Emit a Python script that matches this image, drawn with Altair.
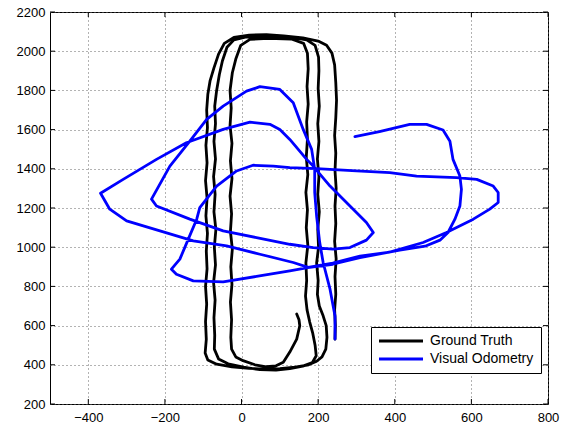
import altair as alt
import pandas as pd

# ---- data (x, y in the plot's units) ----
gt_x = [244, 245, 243, 246, 244, 247, 243, 246, 244, 247, 244, 246, 243, 246, 248, 246, 243, 236, 222, 200,
        160, 110, 65, 20, -20, -45, -60, -72, -82, -88, -91, -89, -93, -90, -94, -90, -93, -89, -92, -90,
        -94, -91, -94, -92, -95, -88, -65, -25, 20, 60, 100, 140, 175, 196, 210, 220, 223, 221, 213, 203,
        198, 200, 196, 201, 199, 203, 199, 202, 198, 202, 199, 203, 200, 202, 201, 192, 170, 130, 70, 10,
        -20, -38, -50, -58, -65, -70, -68, -72, -68, -73, -69, -72, -67, -71, -68, -73, -69, -72, -70, -71,
        -60, -35, 5, 48, 90, 126, 160, 185, 195, 192, 186, 178, 171, 167, 170, 168, 173, 169, 172, 168,
        173, 169, 172, 170, 174, 171, 174, 172, 162, 130, 70, 22, -2, -15, -24, -30, -27, -30, -25, -29,
        -25, -30, -26, -29, -24, -28, -25, -29, -26, -28, -26, -15, 4, 35, 65, 90, 109, 126, 144, 152,
        150, 144]
gt_y = [531, 600, 680, 760, 850, 940, 1030, 1120, 1210, 1300, 1390, 1480, 1570, 1660, 1750, 1840, 1930, 1990, 2030, 2052,
        2068, 2078, 2085, 2082, 2070, 2040, 1985, 1915, 1850, 1780, 1700, 1610, 1520, 1430, 1340, 1250, 1160, 1070, 980, 890,
        800, 710, 620, 530, 460, 425, 403, 390, 382, 378, 380, 388, 400, 418, 440, 480, 540, 600, 650, 700,
        760, 830, 920, 1000, 1090, 1180, 1270, 1360, 1450, 1540, 1630, 1720, 1810, 1900, 1970, 2030, 2058, 2070, 2075, 2072,
        2058, 2020, 1950, 1880, 1800, 1720, 1630, 1540, 1450, 1360, 1270, 1180, 1090, 1000, 910, 820, 730, 640, 550, 480,
        430, 405, 388, 375, 373, 380, 393, 412, 446, 500, 560, 618, 680, 750, 830, 920, 1010, 1100, 1190, 1280,
        1370, 1460, 1550, 1640, 1730, 1820, 1910, 1990, 2040, 2062, 2066, 2060, 2030, 1960, 1890, 1800, 1710, 1620, 1530, 1440,
        1350, 1260, 1170, 1080, 990, 900, 810, 720, 630, 540, 480, 440, 421, 400, 390, 395, 413, 465, 531, 599,
        630, 659]

vo_x = [244, 244, 231, 213, 204, 196, 191, 191, 183, 161, 135, 100, 48, 13, -48, -91, -135, -187, -235, -222,
        -135, -48, 39, 126, 187, 239, 283, 326, 344, 326, 283, 231, 187, 170, 126, 100, 74, 22, -48, -144,
        -222, -309, -368, -344, -300, -213, -126, -39, 48, 135, 174, 238, 309, 387, 474, 535, 605, 648, 670, 670,
        657, 614, 561, 457, 387, 300, 196, 126, 83, 30, -13, -65, -109, -117, -139, -161, -183, -170, -126, -48,
        39, 126, 173, 238, 309, 413, 479, 518, 539, 557, 570, 574, 570, 552, 544, 526, 483, 439, 360, 296]
vo_y = [531, 649, 786, 922, 1025, 1158, 1280, 1397, 1499, 1601, 1737, 1805, 1819, 1796, 1720, 1652, 1541, 1414, 1245, 1210,
        1143, 1083, 1049, 1015, 998, 990, 998, 1036, 1075, 1126, 1210, 1312, 1414, 1448, 1550, 1601, 1627, 1638, 1601, 1533,
        1448, 1346, 1275, 1194, 1134, 1083, 1032, 1007, 964, 922, 897, 919, 954, 975, 1024, 1075, 1143, 1194, 1228, 1279,
        1312, 1346, 1355, 1363, 1381, 1389, 1401, 1406, 1414, 1418, 1389, 1312, 1202, 1143, 1041, 939, 888, 862, 828, 823,
        851, 879, 896, 913, 947, 985, 1005, 1036, 1075, 1143, 1210, 1295, 1363, 1448, 1541, 1598, 1627, 1627, 1590, 1564]

series_names = ["Ground Truth", "Visual Odometry"]
series_colors = ["#000000", "#0000ff"]

x_ticks = [-400, -200, 0, 200, 400, 600, 800]
y_ticks = [200, 400, 600, 800, 1000, 1200, 1400, 1600, 1800, 2000, 2200]

W, H = 498, 392
FONT = "Liberation Sans"

df = pd.concat([
    pd.DataFrame({"series": series_names[0], "x": gt_x, "y": gt_y, "i": range(len(gt_x))}),
    pd.DataFrame({"series": series_names[1], "x": vo_x, "y": vo_y, "i": range(len(vo_x))}),
])

xs = alt.Scale(domain=[-500, 800], nice=False, zero=False)
ys = alt.Scale(domain=[200, 2200], nice=False, zero=False)

x_axis = alt.Axis(values=x_ticks, title=None, ticks=False, domain=False, grid=True,
                  gridDash=[1, 3], gridColor="#666666", gridWidth=1,
                  labelFont=FONT, labelFontSize=13, labelColor="black", labelPadding=7,
                  format="d", labelFlush=False)
y_axis = alt.Axis(values=y_ticks, title=None, ticks=False, domain=False, grid=True,
                  gridDash=[1, 3], gridColor="#666666", gridWidth=1,
                  labelFont=FONT, labelFontSize=13, labelColor="black", labelPadding=5,
                  format="d", labelFlush=False)

lines = alt.Chart(df).mark_line(strokeWidth=2.8, strokeJoin="round", strokeCap="round").encode(
    x=alt.X("x:Q", scale=xs, axis=x_axis),
    y=alt.Y("y:Q", scale=ys, axis=y_axis),
    order="i:Q",
    color=alt.Color("series:N",
                    scale=alt.Scale(domain=series_names, range=series_colors),
                    legend=alt.Legend(title=None, orient="none", legendX=321, legendY=315,
                                      symbolType="M-4,0H4", symbolStrokeWidth=2.8, symbolSize=121,
                                      symbolOffset=16, symbolFillColor="transparent",
                                      labelFont=FONT, labelFontSize=14, labelColor="black",
                                      labelOffset=22, fillColor="white", strokeColor="black",
                                      padding=7, rowPadding=4, cornerRadius=0)),
)

xt = pd.DataFrame({"x": x_ticks})
yt = pd.DataFrame({"y": y_ticks})
tick_b = alt.Chart(xt).mark_rule(color="black", strokeWidth=1).encode(
    x=alt.X("x:Q", scale=xs, axis=x_axis), y=alt.value(H), y2=alt.value(H - 5))
tick_t = alt.Chart(xt).mark_rule(color="black", strokeWidth=1).encode(
    x=alt.X("x:Q", scale=xs, axis=x_axis), y=alt.value(0), y2=alt.value(5))
tick_l = alt.Chart(yt).mark_rule(color="black", strokeWidth=1).encode(
    y=alt.Y("y:Q", scale=ys, axis=y_axis), x=alt.value(0), x2=alt.value(5))
tick_r = alt.Chart(yt).mark_rule(color="black", strokeWidth=1).encode(
    y=alt.Y("y:Q", scale=ys, axis=y_axis), x=alt.value(W), x2=alt.value(W - 5))

chart = alt.layer(lines, tick_b, tick_t, tick_l, tick_r).properties(
    width=W, height=H,
    autosize=alt.AutoSizeParams(type="none"),
    padding={"left": 50, "top": 12, "right": 18, "bottom": 24},
    background="white",
).configure_view(stroke="black", strokeWidth=1)

chart.save("out.html", embed_options={"renderer": "svg", "actions": False})
